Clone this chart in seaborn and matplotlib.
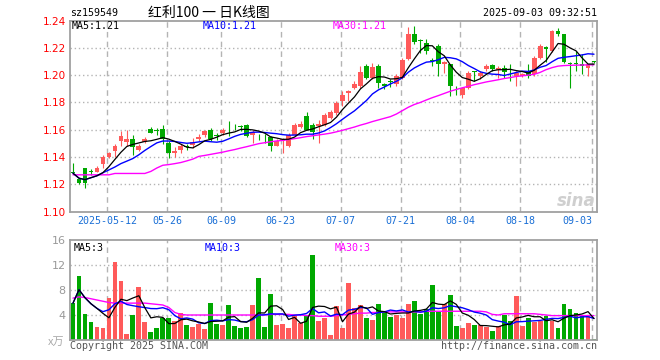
import numpy as np
import pandas as pd
import matplotlib
matplotlib.use("Agg")
import matplotlib.pyplot as plt
import seaborn as sns


# ----- data (ETF sz159549, daily K, 2025-04-29 .. 2025-09-03) -----
opens = [1.1294, 1.1240, 1.1319, 1.1296, 1.1294, 1.1349, 1.1400, 1.1446, 1.1515, 1.1507,
         1.1532, 1.1449, 1.1510, 1.1606, 1.1596, 1.1608, 1.1503, 1.1429, 1.1449, 1.1483,
         1.1490, 1.1532, 1.1559, 1.1596, 1.1559, 1.1576, 1.1608, 1.1638, 1.1628, 1.1638,
         1.1562, 1.1564, 1.1564, 1.1547, 1.1483, 1.1515, 1.1478, 1.1564, 1.1621, 1.1704,
         1.1638, 1.1625, 1.1638, 1.1687, 1.1724, 1.1809, 1.1871, 1.1907, 1.1919, 1.2066,
         1.1981, 1.2066, 1.1932, 1.1956, 1.1932, 1.1981, 1.2115, 1.2299, 1.2257, 1.2238,
         1.2108, 1.2213, 1.2079, 1.2079, 1.1915, 1.1855, 1.1907, 1.2027, 1.1992, 1.2042,
         1.2071, 1.2037, 1.2049, 1.2032, 1.1993, 1.1993, 1.2029, 1.2005, 1.2128, 1.2209,
         1.2176, 1.2324, 1.2299, 1.2086, 1.2088, 1.2084, 1.2054, 1.2101]
highs = [1.1356, 1.1248, 1.1322, 1.1314, 1.1336, 1.1417, 1.1439, 1.1498, 1.1588, 1.1600,
         1.1564, 1.1493, 1.1549, 1.1619, 1.1613, 1.1638, 1.1515, 1.1473, 1.1498, 1.1498,
         1.1540, 1.1571, 1.1600, 1.1613, 1.1579, 1.1613, 1.1662, 1.1645, 1.1635, 1.1645,
         1.1596, 1.1571, 1.1571, 1.1557, 1.1532, 1.1542, 1.1576, 1.1650, 1.1662, 1.1728,
         1.1650, 1.1674, 1.1724, 1.1748, 1.1809, 1.1882, 1.1888, 1.1956, 1.2066, 1.2084,
         1.2091, 1.2079, 1.1944, 1.1968, 1.2010, 1.2128, 1.2349, 1.2360, 1.2262, 1.2262,
         1.2128, 1.2226, 1.2103, 1.2084, 1.1919, 1.1915, 1.2029, 1.2029, 1.2029, 1.2079,
         1.2079, 1.2066, 1.2074, 1.2079, 1.2029, 1.2018, 1.2079, 1.2140, 1.2226, 1.2213,
         1.2329, 1.2343, 1.2304, 1.2099, 1.2176, 1.2152, 1.2084, 1.2103]
lows = [1.1277, 1.1204, 1.1172, 1.1270, 1.1290, 1.1321, 1.1395, 1.1404, 1.1478, 1.1478,
        1.1417, 1.1444, 1.1503, 1.1575, 1.1564, 1.1496, 1.1395, 1.1400, 1.1429, 1.1449,
        1.1466, 1.1520, 1.1549, 1.1515, 1.1527, 1.1564, 1.1551, 1.1600, 1.1588, 1.1547,
        1.1503, 1.1522, 1.1503, 1.1441, 1.1481, 1.1429, 1.1471, 1.1551, 1.1613, 1.1596,
        1.1532, 1.1503, 1.1625, 1.1682, 1.1711, 1.1772, 1.1809, 1.1895, 1.1907, 1.1968,
        1.1968, 1.1907, 1.1895, 1.1912, 1.1919, 1.1968, 1.2108, 1.2226, 1.2165, 1.2152,
        1.2066, 1.1993, 1.2016, 1.1846, 1.1858, 1.1835, 1.1895, 1.1956, 1.1968, 1.2029,
        1.2027, 1.1981, 1.1981, 1.1956, 1.1919, 1.1988, 1.1981, 1.1993, 1.2115, 1.2099,
        1.2172, 1.2287, 1.2091, 1.1907, 1.2029, 1.2005, 1.1993, 1.2091]
closes = [1.1282, 1.1209, 1.1213, 1.1292, 1.1319, 1.1397, 1.1429, 1.1478, 1.1551, 1.1535,
          1.1471, 1.1483, 1.1532, 1.1576, 1.1588, 1.1532, 1.1429, 1.1446, 1.1478, 1.1476,
          1.1507, 1.1547, 1.1588, 1.1532, 1.1554, 1.1600, 1.1603, 1.1632, 1.1623, 1.1557,
          1.1581, 1.1559, 1.1559, 1.1483, 1.1515, 1.1532, 1.1564, 1.1638, 1.1645, 1.1600,
          1.1581, 1.1645, 1.1711, 1.1728, 1.1797, 1.1858, 1.1882, 1.1937, 1.2022, 1.1981,
          1.2059, 1.1944, 1.1924, 1.1949, 1.1993, 1.2108, 1.2299, 1.2246, 1.2253, 1.2176,
          1.2101, 1.2079, 1.2099, 1.1919, 1.1910, 1.1905, 1.2018, 1.2022, 1.2013, 1.2066,
          1.2042, 1.2054, 1.2025, 1.2027, 1.2018, 1.2010, 1.1993, 1.2128, 1.2213, 1.2189,
          1.2324, 1.2304, 1.2099, 1.2081, 1.2081, 1.2066, 1.2079, 1.2096]

# MA30 of price (needs history before the window)
ma30_price = [1.1270, 1.1270, 1.1270, 1.1270, 1.1270, 1.1270, 1.1270, 1.1280, 1.1280, 1.1280,
              1.1280, 1.1280, 1.1280, 1.1295, 1.1320, 1.1340, 1.1345, 1.1352, 1.1360, 1.1372,
              1.1385, 1.1405, 1.1412, 1.1420, 1.1428, 1.1436, 1.1446, 1.1455, 1.1466, 1.1476,
              1.1487, 1.1498, 1.1505, 1.1512, 1.1518, 1.1522, 1.1528, 1.1535, 1.1542, 1.1550,
              1.1556, 1.1562, 1.1568, 1.1575, 1.1585, 1.1596, 1.1608, 1.1620, 1.1634, 1.1646,
              1.1660, 1.1672, 1.1684, 1.1696, 1.1715, 1.1740, 1.1765, 1.1785, 1.1800, 1.1818,
              1.1835, 1.1850, 1.1866, 1.1882, 1.1895, 1.1907, 1.1918, 1.1930, 1.1940, 1.1950,
              1.1958, 1.1966, 1.1975, 1.1982, 1.1990, 1.1995, 1.2000, 1.2006, 1.2020, 1.2040,
              1.2055, 1.2066, 1.2070, 1.2072, 1.2073, 1.2074, 1.2075, 1.2076]

# volume (x万)
volumes = [5.9, 10.2, 4.2, 2.9, 2.1, 1.9, 6.7, 12.5, 9.4, 1.0,
           4.0, 8.5, 2.9, 1.3, 1.9, 3.5, 3.5, 3.0, 4.3, 2.4,
           2.1, 2.6, 1.8, 5.9, 2.6, 2.4, 5.6, 2.2, 1.9, 2.1,
           5.6, 9.9, 2.1, 7.4, 2.4, 2.6, 1.9, 3.8, 2.7, 4.0,
           13.6, 3.0, 3.5, 0.8, 5.4, 1.9, 9.1, 5.1, 5.6, 3.5,
           3.2, 5.8, 4.6, 3.7, 4.0, 3.5, 5.8, 6.2, 4.2, 5.0,
           8.8, 4.5, 5.8, 7.2, 2.2, 1.9, 2.7, 2.4, 2.4, 2.1,
           1.4, 2.2, 4.0, 3.0, 7.0, 2.2, 3.5, 2.9, 3.0, 3.8,
           3.0, 1.9, 5.8, 5.0, 4.3, 3.8, 3.8, 0.2]

# volume MA30
ma30_vol = [6.7, 6.9, 6.8, 6.6, 6.4, 6.2, 6.0, 5.9, 5.9, 5.9,
            5.9, 5.9, 5.9, 5.8, 5.7, 5.6, 5.2, 4.4, 4.1, 4.0,
            4.0, 4.0, 4.0, 4.0, 4.0, 4.0, 4.0, 4.0, 4.0, 4.0,
            4.0, 4.0, 4.0, 4.1, 4.1, 4.1, 4.1, 4.0, 4.0, 3.9,
            3.9, 3.8, 3.8, 3.8, 3.9, 4.0, 4.1, 4.2, 4.3, 4.3,
            4.4, 4.4, 4.5, 4.5, 4.5, 4.5, 4.5, 4.5, 4.5, 4.6,
            4.6, 4.6, 4.6, 4.6, 4.6, 4.6, 4.6, 4.6, 4.6, 4.5,
            4.1, 4.0, 4.2, 4.2, 4.2, 4.2, 4.2, 4.2, 4.1, 4.0,
            3.9, 3.9, 3.9, 3.9, 3.9, 3.9, 3.9, 3.9]

tick_idx = [6, 16, 25, 35, 45, 55, 65, 75, 87]
tick_labels = ["2025-05-12", "05-26", "06-09", "06-23", "07-07", "07-21", "08-04", "08-18", "09-03"]

code = "sz159549"
title = "红利100 一 日K线图"
stamp = "2025-09-03 09:32:51"
price_ma_labels = ["MA5:1.21", "MA10:1.21", "MA30:1.21"]
vol_ma_labels = ["MA5:3", "MA10:3", "MA30:3"]


# ----- prepare -----
df = pd.DataFrame({"open": opens, "high": highs, "low": lows, "close": closes,
                   "vol": volumes, "ma30": ma30_price, "vma30": ma30_vol})
df["idx"] = np.arange(len(df))
df["dir"] = np.where(df["close"] >= df["open"], "up", "down")
df["ma5"] = df["close"].rolling(5, min_periods=1).mean()
df["ma10"] = df["close"].rolling(10, min_periods=1).mean()
df["vma5"] = df["vol"].rolling(5, min_periods=1).mean()
df["vma10"] = df["vol"].rolling(10, min_periods=1).mean()

RED = "#ff5a5a"
GREEN = "#00a800"
GRID = "#b4b4b4"
SPINE = "#a0a0a0"
MA_COLORS = ["black", "#0000ff", "#ff00ff"]

sns.set_style("white")
plt.rcParams["font.family"] = ["DejaVu Sans Mono", "Noto Sans CJK SC"]

fig = plt.figure(figsize=(6.6, 3.6), dpi=100)
ax = fig.add_axes([70 / 660, 1 - 211.7 / 360, 527 / 660, 191.2 / 360])
axv = fig.add_axes([70 / 660, 1 - 340 / 360, 527 / 660, 100 / 360])

grid_x = [i - 0.3 for i in tick_idx]
colors = np.where(df["dir"] == "up", RED, GREEN)

# ----- price panel -----
for gx in grid_x:
    ax.axvline(gx, color=GRID, lw=1, ls=(0, (4, 3)), zorder=0)
for gy in [1.12, 1.14, 1.16, 1.18, 1.20, 1.22]:
    ax.axhline(gy, color=GRID, lw=1, ls=(0, (1, 2)), zorder=0)

ax.vlines(df["idx"], df["low"], df["high"], colors=colors, lw=0.8, zorder=2)
body_low = np.minimum(df["open"], df["close"])
body_h = np.maximum((df["close"] - df["open"]).abs(), 0.0005)
ax.bar(df["idx"], body_h, bottom=body_low, width=0.8, color=colors, lw=0, zorder=3)

sns.lineplot(data=df, x="idx", y="ma30", color=MA_COLORS[2], lw=1, ax=ax, zorder=4)
sns.lineplot(data=df, x="idx", y="ma10", color=MA_COLORS[1], lw=1, ax=ax, zorder=4)
sns.lineplot(data=df, x="idx", y="ma5", color=MA_COLORS[0], lw=0.9, ax=ax, zorder=4)

ax.set_xlim(-0.5, len(df) - 0.5)
ax.set_ylim(1.10, 1.24)
ax.set_xlabel("")
ax.set_ylabel("")
yt = np.round(np.arange(1.10, 1.2401, 0.02), 2)
ax.set_yticks(yt)
ax.set_yticklabels([f"{v:.2f}" for v in yt], color="red", fontsize=7.5, family="DejaVu Sans")
ax.set_xticks(grid_x)
ax.set_xticklabels(tick_labels, color="#1a6fd6", fontsize=7.2)
ax.get_xticklabels()[-1].set_ha("right")
ax.tick_params(length=0, pad=3)
for s in ax.spines.values():
    s.set_color(SPINE)
    s.set_linewidth(1.3)

for xf, lab, col in zip([0.004, 0.252, 0.499], price_ma_labels, MA_COLORS):
    ax.text(xf, 0.995, lab, transform=ax.transAxes, color=col, fontsize=7.2, va="top", ha="left")
ax.text(0.998, 0.01, "sina", transform=ax.transAxes, color="#cfcfcf", fontsize=12,
        style="italic", weight="bold", family="DejaVu Sans", ha="right", va="bottom")

# ----- volume panel -----
for gx in grid_x:
    axv.axvline(gx, color=GRID, lw=1, ls=(0, (4, 3)), zorder=0)
for gy in [4, 8, 12]:
    axv.axhline(gy, color=GRID, lw=1, ls=(0, (1, 2)), zorder=0)

sns.barplot(data=df, x="idx", y="vol", hue="dir", palette={"up": RED, "down": GREEN},
            dodge=False, width=0.8, saturation=1, linewidth=0, legend=False, ax=axv, zorder=2)
sns.lineplot(data=df, x="idx", y="vma30", color=MA_COLORS[2], lw=1, ax=axv, zorder=4)
sns.lineplot(data=df, x="idx", y="vma10", color=MA_COLORS[1], lw=1, ax=axv, zorder=4)
sns.lineplot(data=df, x="idx", y="vma5", color=MA_COLORS[0], lw=0.9, ax=axv, zorder=4)

axv.set_xlim(-0.5, len(df) - 0.5)
axv.set_ylim(0, 16)
axv.set_xlabel("")
axv.set_ylabel("")
axv.set_xticks([])
axv.set_yticks([4, 8, 12, 16])
axv.set_yticklabels(["4", "8", "12", "16"], color="#999999", fontsize=8, family="DejaVu Sans")
axv.tick_params(length=0, pad=3)
for s in axv.spines.values():
    s.set_color(SPINE)
    s.set_linewidth(1.3)

for xf, lab, col in zip([0.006, 0.256, 0.503], vol_ma_labels, MA_COLORS):
    axv.text(xf, 0.97, lab, transform=axv.transAxes, color=col, fontsize=7.2, va="top", ha="left")

# ----- header / footer text -----
fig.text(70 / 660, 1 - 13 / 360, code, fontsize=7.2, va="center", ha="left", color="black")
fig.text(209 / 660, 1 - 13 / 360, title, fontsize=10, va="center", ha="center", color="black",
         family=["Noto Sans CJK SC", "DejaVu Sans"])
fig.text(597 / 660, 1 - 13 / 360, stamp, fontsize=7.2, va="center", ha="right", color="black")
fig.text(64 / 660, 1 - 342 / 360, "x万", fontsize=8, va="center", ha="right", color="#aaaaaa",
         family=["Noto Sans CJK SC", "DejaVu Sans"])
fig.text(70 / 660, 1 - 346 / 360, "Copyright 2025 SINA.COM", fontsize=7.2, va="center",
         ha="left", color="#555555")
fig.text(597 / 660, 1 - 346 / 360, "http://finance.sina.com.cn", fontsize=7.2, va="center",
         ha="right", color="#555555")

fig.savefig("out.png", dpi=100, facecolor="white")
